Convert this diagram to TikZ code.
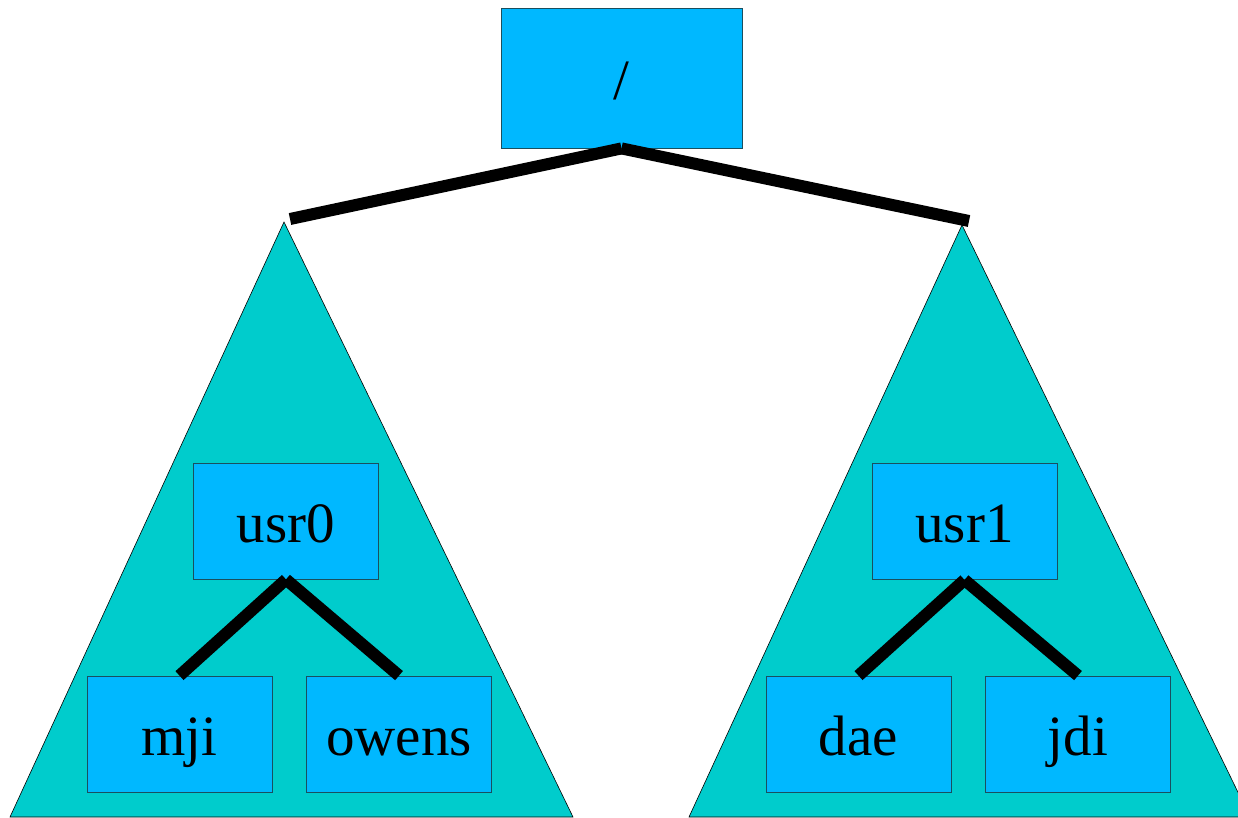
\documentclass[tikz,border=0pt]{standalone}
\usepackage{fontspec}
\setmainfont{Liberation Serif}
\definecolor{boxblue}{HTML}{00B8FF}
\definecolor{trifill}{HTML}{00CCCC}
\definecolor{boxline}{HTML}{1A4F5F}
\tikzset{
  dirbox/.style={draw=boxline, line width=0.8pt, fill=boxblue, inner sep=0pt,
    font=\fontsize{57}{64}\selectfont, text height=53pt, text depth=11pt},
  smallbox/.style={dirbox, minimum width=185pt, minimum height=116pt},
  link/.style={line width=12pt, black},
  subtree/.style={fill=trifill, draw=black, line width=0.6pt}
}
\begin{document}
\begin{tikzpicture}[x=1pt,y=-1pt]
\useasboundingbox (0,0) rectangle (1238,817);
\begin{scope}
\clip (0,0) rectangle (1238,817);
\draw[subtree] (284,222) -- (573,817) -- (10,817) -- cycle;
\draw[subtree] (962,225) -- (1250,817) -- (689,817) -- cycle;
\end{scope}
\coordinate (ltop) at (290,219);
\coordinate (rtop) at (969,221);
\node[dirbox, minimum width=241pt, minimum height=140pt] (root) at (621.5,78) {/};
\node[smallbox] (usr0) at (286,521) {usr0};
\node[smallbox] (usr1) at (964.5,521.5) {usr1};
\node[smallbox] (mji) at (179.5,734) {mji};
\node[smallbox] (owens) at (399,734) {owens};
\node[smallbox] (dae) at (858.5,734) {dae};
\node[smallbox] (jdi) at (1078,734) {jdi};
\draw[link] (root.south) -- (ltop);
\draw[link] (root.south) -- (rtop);
\draw[link] (usr0.south) -- (mji.north);
\draw[link] (usr0.south) -- (owens.north);
\draw[link] (usr1.south) -- (dae.north);
\draw[link] (usr1.south) -- (jdi.north);
\end{tikzpicture}
\end{document}
